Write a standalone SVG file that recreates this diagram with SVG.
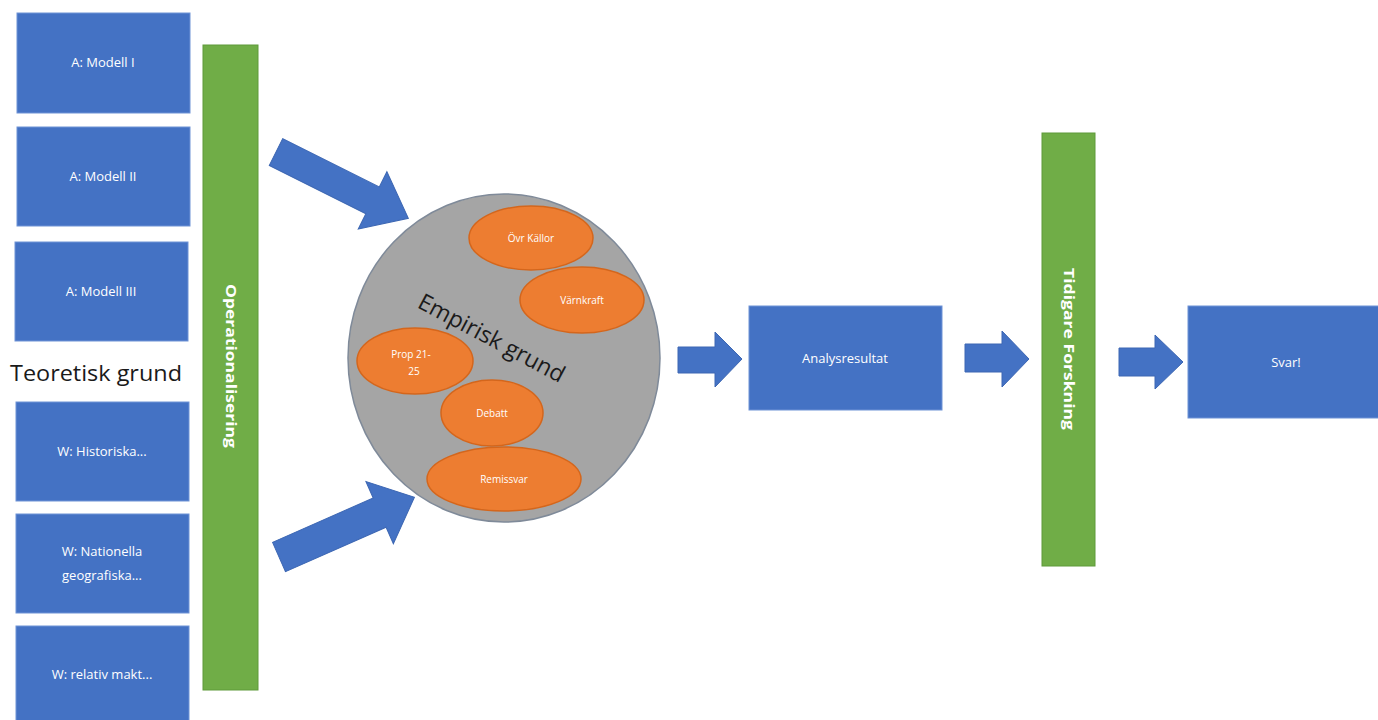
<svg xmlns="http://www.w3.org/2000/svg" width="1378" height="720" viewBox="0 0 1378 720">
<style>
.box{fill:#4472C4;stroke:#6f93d6;stroke-width:1}
.bar{fill:#70AD47;stroke:#5f9a3b;stroke-width:1}
.arr{fill:#4472C4;stroke:#3d67b3;stroke-width:1}
.oval{fill:#ED7D31;stroke:#d4661c;stroke-width:1.5}
.t{font-family:"Open Sans","Liberation Sans",sans-serif;fill:#ffffff;text-anchor:middle;font-size:13px}
.bt{font-family:"Open Sans","Liberation Sans",sans-serif;fill:#ffffff;text-anchor:middle;font-size:14px;font-weight:bold}
.ot{font-family:"Open Sans","Liberation Sans",sans-serif;fill:#ffffff;text-anchor:middle;font-size:10px}
</style>
<rect width="1378" height="720" fill="#ffffff"/>
<g id="modell1"><rect class="box" x="17" y="13" width="173" height="100"/><text class="t" x="103" y="67">A: Modell I</text></g>
<g id="modell2"><rect class="box" x="17" y="127" width="173" height="99"/><text class="t" x="103" y="181">A: Modell II</text></g>
<g id="modell3"><rect class="box" x="15" y="242" width="173" height="99"/><text class="t" x="101" y="296">A: Modell III</text></g>
<g id="teoretisk"><text x="96" y="381" font-family="Open Sans, Liberation Sans, sans-serif" font-size="21" fill="#1a1a1a" text-anchor="middle" textLength="172" lengthAdjust="spacingAndGlyphs">Teoretisk grund</text></g>
<g id="historiska"><rect class="box" x="16" y="402" width="173" height="99"/><text class="t" x="102" y="456">W: Historiska...</text></g>
<g id="nationella"><rect class="box" x="16" y="514" width="173" height="99"/><text class="t" x="102" y="556">W: Nationella</text><text class="t" x="102" y="580">geografiska...</text></g>
<g id="relativ"><rect class="box" x="16" y="626" width="173" height="100"/><text class="t" x="102" y="679">W: relativ makt...</text></g>
<g id="operationalisering"><rect class="bar" x="203" y="45" width="55" height="645"/><text class="bt" transform="translate(226,366) rotate(90)" textLength="164" lengthAdjust="spacingAndGlyphs">Operationalisering</text></g>
<g id="empirisk">
<ellipse cx="504" cy="358" rx="156" ry="164" fill="#A5A5A5" stroke="#7f8a99" stroke-width="1.5"/>
<text x="0" y="0" transform="translate(488,345) rotate(28)" font-family="Open Sans, Liberation Sans, sans-serif" font-size="23" fill="#1a1a1a" text-anchor="middle">Empirisk grund</text>
</g>
<g id="ovr"><ellipse class="oval" cx="531" cy="238" rx="62" ry="32"/><text class="ot" x="531" y="242">Övr Källor</text></g>
<g id="varnkraft"><ellipse class="oval" cx="582" cy="300" rx="62" ry="33"/><text class="ot" x="582" y="304">Värnkraft</text></g>
<g id="prop"><ellipse class="oval" cx="415" cy="361" rx="58" ry="33"/><text class="ot" x="411" y="358">Prop 21-</text><text class="ot" x="414" y="375">25</text></g>
<g id="debatt"><ellipse class="oval" cx="492" cy="413" rx="51" ry="33"/><text class="ot" x="492" y="417">Debatt</text></g>
<g id="remissvar"><ellipse class="oval" cx="504" cy="479" rx="77" ry="32"/><text class="ot" x="504" y="483" font-size="11">Remissvar</text></g>
<g id="analys"><rect class="box" x="749" y="306" width="193" height="104"/><text class="t" x="845" y="363" font-size="14">Analysresultat</text></g>
<g id="tidigare"><rect class="bar" x="1042" y="133" width="53" height="433"/><text class="bt" transform="translate(1064,349) rotate(90)" textLength="162" lengthAdjust="spacingAndGlyphs">Tidigare Forskning</text></g>
<g id="svar"><rect class="box" x="1188" y="306" width="192" height="112"/><text class="t" x="1286" y="367" font-size="14">Svar!</text></g>
<g id="connectors">
<polygon class="arr" transform="translate(276,152) rotate(26.6)" points="0,-15 108,-15 108,-32 148,0 108,32 108,15 0,15"/>
<polygon class="arr" transform="translate(279,557) rotate(-23.8)" points="0,-16 110,-16 110,-34 148,0 110,34 110,16 0,16"/>
<polygon class="arr" points="678,347 715,347 715,332 742,359 715,387 715,373 678,373"/>
<polygon class="arr" points="965,344 1002,344 1002,331 1029,359 1002,387 1002,372 965,372"/>
<polygon class="arr" points="1119,348 1155,348 1155,335 1183,362 1155,389 1155,376 1119,376"/>
</g>
</svg>
